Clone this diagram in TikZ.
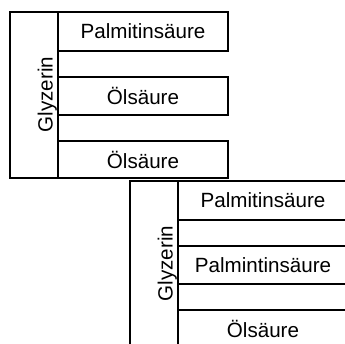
\documentclass[tikz,border=0pt]{standalone}
\usepackage{fontspec}
\setmainfont{Liberation Sans}
\begin{document}
\begin{tikzpicture}[x=1pt,y=-1pt,
  frame/.style={draw=black,line width=2pt,rectangle,inner sep=0pt,outer sep=0pt,anchor=north west},
  acid/.style={frame,minimum width=170pt,font=\fontsize{20.6}{24}\selectfont},
  glyc/.style={rotate=90,anchor=base,inner sep=0pt,font=\fontsize{20.6}{24}\selectfont}]
\useasboundingbox[fill=white] (0,0) rectangle (345,343);
\clip (0,0) rectangle (345,343);
% upper triglyceride
\node[frame,minimum width=48pt,minimum height=166pt] (g1) at (10,12) {};
\node[acid,minimum height=39pt] (a1) at (58,12) {Palmitinsäure};
\node[acid,minimum height=38pt] (a2) at (58,77) {Ölsäure};
\node[acid,minimum height=37pt] (a3) at (58,141) {Ölsäure};
\node[glyc] (t1) at (52.7,94.5) {Glyzerin};
% lower triglyceride
\begin{scope}[shift={(120,169)}]
\node[frame,minimum width=48pt,minimum height=166pt] (g2) at (10,12) {};
\node[acid,minimum height=39pt] (b1) at (58,12) {Palmitinsäure};
\node[acid,minimum height=38pt] (b2) at (58,77) {Palmintinsäure};
\node[acid,minimum height=37pt] (b3) at (58,141) {Ölsäure};
\node[glyc] (t2) at (52.7,94.5) {Glyzerin};
\end{scope}
\end{tikzpicture}
\end{document}
